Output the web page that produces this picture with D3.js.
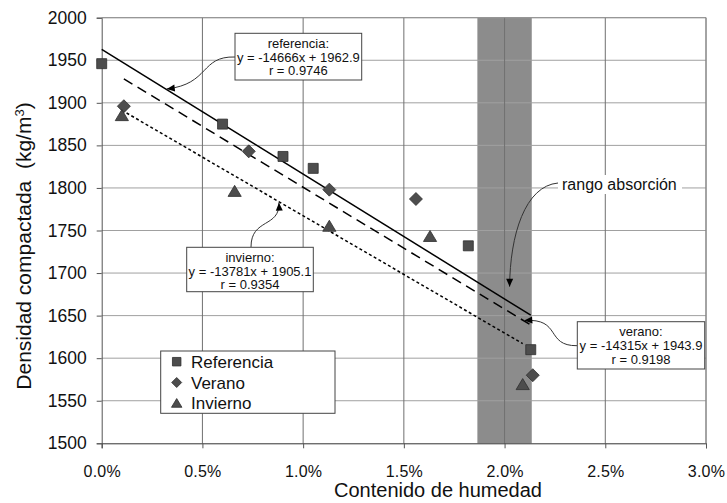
<!DOCTYPE html>
<html>
<head>
<meta charset="utf-8">
<script src="https://cdn.jsdelivr.net/npm/d3@7"></script>
<style>
  body { margin: 0; background: #fff; }
  svg { display: block; font-family: "Liberation Sans", Arial, sans-serif; }
</style>
</head>
<body>
<svg id="chart" width="727" height="503"></svg>
<script>
// ---- Data ----
const xTicks = [0, 0.005, 0.01, 0.015, 0.02, 0.025, 0.03];
const yTicks = [1500, 1550, 1600, 1650, 1700, 1750, 1800, 1850, 1900, 1950, 2000];

const refX = [0.0000, 0.0060, 0.0090, 0.0105, 0.0182, 0.0213];
const refY = [1946, 1875, 1837, 1823, 1732, 1610];

const verX = [0.0011, 0.0073, 0.0113, 0.0156, 0.0214];
const verY = [1896, 1843, 1798, 1787, 1580];

const invX = [0.0010, 0.0066, 0.0113, 0.0163, 0.0209];
const invY = [1885, 1796, 1755, 1743, 1569];

// regression lines: slope, intercept
const refFit = [-14666, 1962.9];
const verFit = [-14315, 1943.9];
const invFit = [-13781, 1905.1];

const bandRange = [0.01865, 0.02135];

const legendLabels = ["Referencia", "Verano", "Invierno"];

// ---- Layout ----
const svg = d3.select("#chart");
const L = 101.7, R = 706, T = 17.7, B = 443.3;
const x = d3.scaleLinear().domain([0, 0.03]).range([L, R]);
const y = d3.scaleLinear().domain([1500, 2000]).range([B, T]);

svg.append("rect").attr("width", 727).attr("height", 503).attr("fill", "#fff");

// band
svg.append("rect")
  .attr("x", x(bandRange[0])).attr("y", T)
  .attr("width", x(bandRange[1]) - x(bandRange[0]))
  .attr("height", B - T)
  .attr("fill", "#8c8c8c");

// gridlines
svg.append("g").selectAll("line").data(yTicks.slice(1)).join("line")
  .attr("x1", L).attr("x2", R)
  .attr("y1", d => y(d)).attr("y2", d => y(d))
  .attr("stroke", "#a0a0a0").attr("stroke-width", 1);
svg.append("g").selectAll("line").data(xTicks.slice(1)).join("line")
  .attr("x1", d => x(d)).attr("x2", d => x(d))
  .attr("y1", T).attr("y2", B)
  .attr("stroke", "#707070").attr("stroke-width", 1);

// axes
const yAxis = d3.axisLeft(y).tickValues(yTicks).tickSize(5).tickPadding(10).tickFormat(d3.format("d"));
const xAxis = d3.axisBottom(x).tickValues(xTicks).tickSize(5).tickPadding(17).tickFormat(d3.format(".1%"));

const gy = svg.append("g").attr("transform", `translate(${L},0)`).call(yAxis);
gy.select(".domain").attr("stroke", "#555");
gy.selectAll(".tick line").attr("stroke", "#555");
gy.selectAll("text").attr("font-size", "17.5px").attr("fill", "#111")
  .attr("font-family", "Liberation Sans, Arial, sans-serif");

const gx = svg.append("g").attr("transform", `translate(0,${B})`).call(xAxis);
gx.select(".domain").attr("stroke", "#333");
gx.selectAll(".tick line").attr("stroke", "#555");
gx.selectAll("text").attr("font-size", "16px").attr("fill", "#111")
  .attr("letter-spacing", "0.2px")
  .attr("font-family", "Liberation Sans, Arial, sans-serif");

// top/right frame
svg.append("line").attr("x1", L).attr("x2", R).attr("y1", T).attr("y2", T).attr("stroke", "#909090");
svg.append("line").attr("x1", R).attr("x2", R).attr("y1", T).attr("y2", B).attr("stroke", "#909090");

// axis titles
svg.append("text").attr("x", 438).attr("y", 497).attr("text-anchor", "middle")
  .attr("font-size", "20px").attr("fill", "#111").text("Contenido de humedad");
svg.append("text")
  .attr("transform", "translate(31,246) rotate(-90)")
  .attr("text-anchor", "middle").attr("font-size", "21px").attr("fill", "#111")
  .attr("xml:space", "preserve")
  .html('Densidad compactada\u00a0 (kg/m<tspan baseline-shift="super" font-size="13px">3</tspan>)');

// trend lines
function fitLine(fit, xs, dash) {
  const x0 = d3.min(xs), x1 = d3.max(xs);
  svg.append("line")
    .attr("x1", x(x0)).attr("y1", y(fit[0] * x0 + fit[1]))
    .attr("x2", x(x1)).attr("y2", y(fit[0] * x1 + fit[1]))
    .attr("stroke", "#000").attr("stroke-width", 1.5)
    .attr("stroke-dasharray", dash);
}
fitLine(refFit, refX, null);
fitLine(verFit, verX, "10,6");
fitLine(invFit, invX, "3,2.5");

// markers
const sqPath = s => `M${-s/2},${-s/2}h${s}v${s}h${-s}Z`;
const diaPath = s => `M0,${-s/2}L${s/2},0L0,${s/2}L${-s/2},0Z`;
const triPath = s => `M0,${-s*0.5}L${s*0.55},${s*0.42}L${-s*0.55},${s*0.42}Z`;

function points(xs, ys, pathFn, size) {
  svg.append("g").selectAll("path").data(xs.map((d, i) => [d, ys[i]])).join("path")
    .attr("d", pathFn(size))
    .attr("transform", d => `translate(${x(d[0])},${y(d[1])})`)
    .attr("fill", "#4d4d4d").attr("stroke", "#2e2e2e").attr("stroke-width", 0.8);
}
points(refX, refY, sqPath, 10);
points(verX, verY, diaPath, 13);
points(invX, invY, triPath, 12);

// arrow marker
svg.append("defs").append("marker")
  .attr("id", "ah").attr("markerUnits", "userSpaceOnUse")
  .attr("viewBox", "-9 -4 10 8").attr("refX", 0).attr("refY", 0)
  .attr("markerWidth", 10).attr("markerHeight", 8).attr("orient", "auto")
  .append("path").attr("d", "M-8,-3.5L0,0L-8,3.5Z").attr("fill", "#000");

function curve(p0, c1, c2, p1) {
  const p = d3.path();
  p.moveTo(p0[0], p0[1]);
  p.bezierCurveTo(c1[0], c1[1], c2[0], c2[1], p1[0], p1[1]);
  svg.append("path").attr("d", p.toString()).attr("fill", "none")
    .attr("stroke", "#333").attr("stroke-width", 1).attr("marker-end", "url(#ah)");
}

// rango absorción label
svg.append("rect").attr("x", 558).attr("y", 175).attr("width", 124).attr("height", 19).attr("fill", "#fff");
svg.append("text").attr("x", 562).attr("y", 189.5).attr("font-size", "16px").attr("fill", "#111").text("rango absorción");
curve([558, 183], [525, 186], [510, 235], [x(0.02025), y(1684)]);

// annotation boxes
function box(bx, by, bw, bh, lines) {
  svg.append("rect").attr("x", bx).attr("y", by).attr("width", bw).attr("height", bh)
    .attr("fill", "#fff").attr("stroke", "#444").attr("stroke-width", 1);
  lines.forEach((t, i) => {
    svg.append("text").attr("x", bx + bw / 2).attr("y", by + 14.5 + i * 13.8)
      .attr("text-anchor", "middle").attr("font-size", "13px").attr("fill", "#111").text(t);
  });
}

const refAx = 0.00318, verAx = 0.02093, invAx = 0.0088;
curve([235, 57], [200, 56], [210, 84], [x(refAx) + 1, y(refFit[0] * refAx + refFit[1])]);
curve([577, 345.7], [545, 346], [562, 318], [x(verAx) + 1, y(verFit[0] * verAx + verFit[1])]);
curve([251, 247], [251, 218], [280, 228], [x(invAx), y(invFit[0] * invAx + invFit[1]) + 1]);

box(235, 33.3, 126.7, 46.7, ["referencia:", "y = -14666x + 1962.9", "r = 0.9746"]);
box(186.7, 247.3, 126.6, 44.4, ["invierno:", "y = -13781x + 1905.1", "r = 0.9354"]);
box(577.3, 321.7, 127.4, 47.3, ["verano:", "y = -14315x + 1943.9", "r = 0.9198"]);

// legend
const lg = svg.append("g");
lg.append("rect").attr("x", 160.7).attr("y", 351).attr("width", 174.3).attr("height", 62.3)
  .attr("fill", "#fff").attr("stroke", "#444").attr("stroke-width", 1);
const legPaths = [sqPath(8.5), diaPath(10), triPath(9.5)];
legendLabels.forEach((t, i) => {
  const ly = 361.7 + i * 20.8;
  lg.append("path").attr("d", legPaths[i]).attr("transform", `translate(176.7,${ly})`)
    .attr("fill", "#4d4d4d").attr("stroke", "#2e2e2e").attr("stroke-width", 0.8);
  lg.append("text").attr("x", 191).attr("y", ly + 6).attr("font-size", "17px").attr("fill", "#111").text(t);
});
</script>
</body>
</html>
